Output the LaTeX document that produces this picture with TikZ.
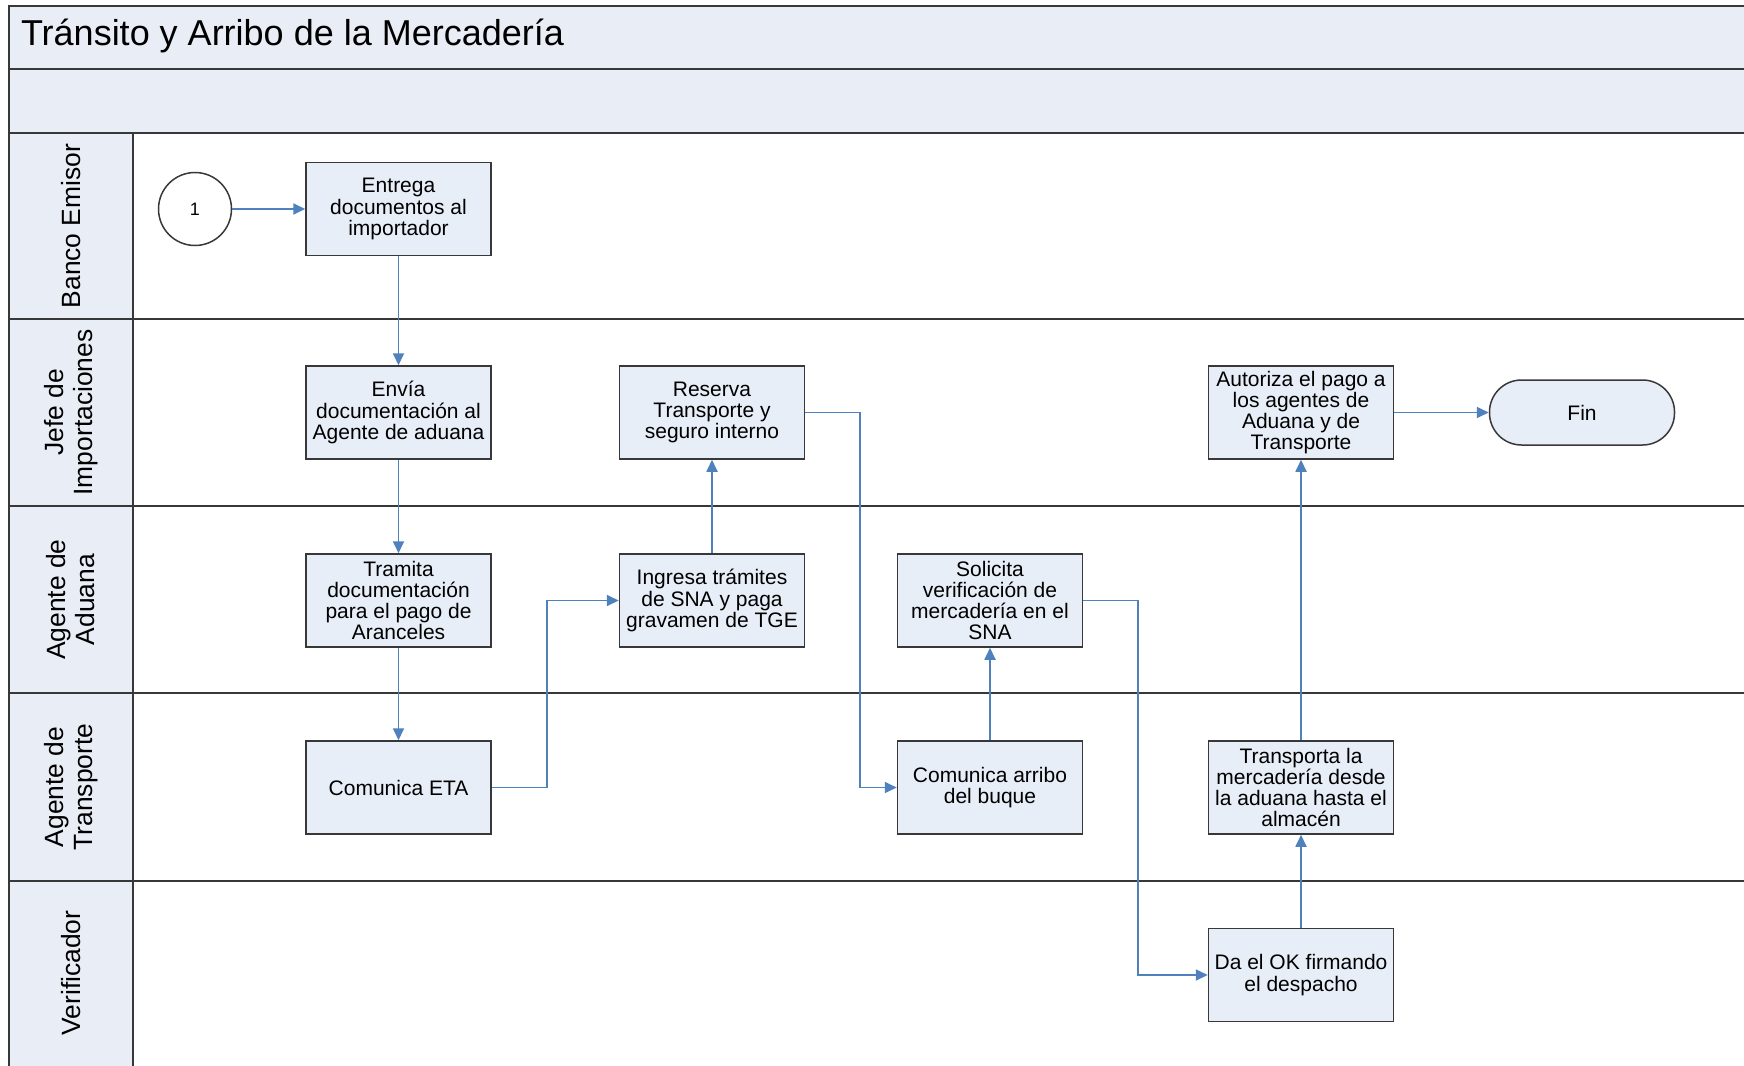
\documentclass[tikz,border=0pt]{standalone}
\usepackage{fontspec}
\setmainfont{Liberation Sans}
\usetikzlibrary{arrows.meta}
\definecolor{fillc}{HTML}{E8EEF7}
\definecolor{lanec}{HTML}{E9EEF6}
\definecolor{arrc}{HTML}{4F81BD}
\definecolor{linec}{HTML}{383838}
\begin{document}
\begin{tikzpicture}[x=0.5pt,y=-0.5pt,
  proc/.style={draw=linec, line width=0.75pt, fill=fillc, minimum width=92.5pt, minimum height=46.5pt,
    align=center, inner sep=1pt, font=\fontsize{10.5}{10.6}\selectfont},
  conn/.style={draw=arrc, line width=0.9pt, -{Triangle[length=6pt,width=5.5pt]}},
  lanelbl/.style={rotate=90, align=center, font=\fontsize{13.2}{14.5}\selectfont},
  laneline/.style={draw=linec, line width=1.1pt}]
\useasboundingbox (0,0) rectangle (1744,1065);
\begin{scope}
\clip (0,0) rectangle (1744,1065);
% bands
\fill[lanec] (9,6) rectangle (1760,133);
\fill[lanec] (9,133) rectangle (133,1080);
\draw[laneline] (9,6) rectangle (1760,1080);
\draw[laneline] (9,69) -- (1760,69);
\draw[laneline] (9,133) -- (1760,133);
\draw[laneline] (9,319) -- (1760,319);
\draw[laneline] (9,506) -- (1760,506);
\draw[laneline] (9,693) -- (1760,693);
\draw[laneline] (9,881) -- (1760,881);
\draw[laneline] (133,133) -- (133,1080);
\end{scope}
\node[anchor=west, font=\fontsize{18}{20}\selectfont] (title) at (14,36) {Tránsito y Arribo de la Mercadería};
% lane labels
\node[lanelbl] (l1) at (71,226) {Banco Emisor};
\node[lanelbl] (l2) at (71,412.5) {Jefe de\\Importaciones};
\node[lanelbl] (l3) at (71,599.5) {Agente de\\Aduana};
\node[lanelbl] (l4) at (71,787) {Agente de\\Transporte};
\node[lanelbl] (l5) at (71,973) {Verificador};
% nodes
\node[draw=linec, line width=0.75pt, fill=white, circle, minimum size=36.5pt, inner sep=0pt, font=\fontsize{9}{10}\selectfont] (c1) at (195,209) {1};
\node[proc] (b1) at (398.5,209) {Entrega\\documentos al\\importador};
\node[proc] (b2) at (398.5,412.5) {Envía\\documentación al\\Agente de aduana};
\node[proc] (b3) at (398.5,600.5) {Tramita\\documentación\\para el pago de\\Aranceles};
\node[proc] (b4) at (398.5,787.5) {Comunica ETA};
\node[proc] (b5) at (712,412.5) {Reserva\\Transporte y\\seguro interno};
\node[proc] (b6) at (712,600.5) {Ingresa trámites\\de SNA y paga\\gravamen de TGE};
\node[proc] (b7) at (990,600.5) {Solicita\\verificación de\\mercadería en el\\SNA};
\node[proc] (b8) at (990,787.5) {Comunica arribo\\del buque};
\node[proc] (b9) at (1301,412.5) {Autoriza el pago a\\los agentes de\\Aduana y de\\Transporte};
\node[proc] (b10) at (1301,787.5) {Transporta la\\mercadería desde\\la aduana hasta el\\almacén};
\node[proc] (b11) at (1301,975) {Da el OK firmando\\el despacho};
\node[draw=linec, line width=0.75pt, fill=fillc, rounded corners=16pt, minimum width=92.5pt, minimum height=32.5pt,
  font=\fontsize{10.5}{11}\selectfont] (fin) at (1582,412.5) {Fin};
% connectors
\draw[conn] (c1) -- (b1);
\draw[conn] (b1) -- (b2);
\draw[conn] (b2) -- (b3);
\draw[conn] (b3) -- (b4);
\draw[conn] (b4.east) -- ++(55,0) |- (b6.west);
\draw[conn] (b6) -- (b5);
\draw[conn] (b5.east) -- ++(55,0) |- (b8.west);
\draw[conn] (b8) -- (b7);
\draw[conn] (b7.east) -- ++(55,0) |- (b11.west);
\draw[conn] (b11) -- (b10);
\draw[conn] (b10) -- (b9);
\draw[conn] (b9) -- (fin);
\end{tikzpicture}
\end{document}
